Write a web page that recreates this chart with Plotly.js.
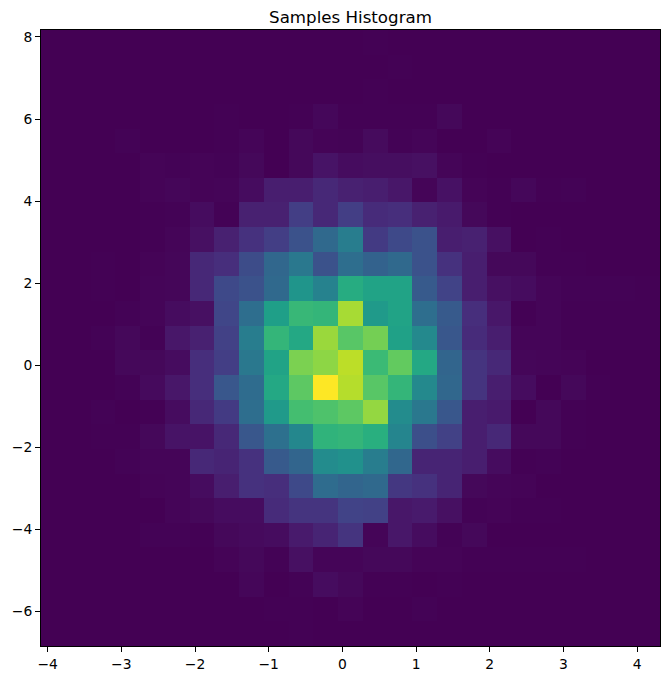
<!DOCTYPE html>
<html><head><meta charset="utf-8">
<script src="https://cdn.plot.ly/plotly-3.0.1.min.js"></script>
<style>html,body{margin:0;padding:0;background:#fff}</style></head>
<body><div id="chart" style="width:670px;height:680px"></div>
<script>
const xEdges=[-4.09,-3.754,-3.418,-3.082,-2.746,-2.41,-2.074,-1.738,-1.402,-1.066,-0.73,-0.394,-0.058,0.278,0.614,0.95,1.286,1.622,1.958,2.294,2.63,2.966,3.302,3.638,3.974,4.31];
const yEdges=[8.17,7.569,6.968,6.368,5.767,5.166,4.565,3.965,3.364,2.763,2.162,1.561,0.961,0.36,-0.241,-0.842,-1.442,-2.043,-2.644,-3.245,-3.846,-4.446,-5.047,-5.648,-6.249,-6.85];
// Histogram intensity per cell (0-100), rows from top to bottom
const row00=[0,0,0,0,0,0,0,0,0,0,0,.1,.1,.3,.1,0,0,0,0,0,0,0,0,0,0];
const row01=[0,0,0,0,0,0,0,0,0,0,0,0,0,.1,.4,0,0,0,0,0,0,0,0,0,0];
const row02=[0,0,0,0,0,0,0,0,0,0,0,0,0,.3,.1,0,0,0,0,0,0,0,0,0,0];
const row03=[0,0,0,0,0,0,0,.4,0,0,.4,1.6,.4,.4,.4,.4,1.8,0,0,0,0,0,0,0,0];
const row04=[0,0,0,.5,.1,.1,.1,.4,1.2,0,1.8,.8,.7,2.6,.5,1.2,.1,.1,.8,0,0,0,0,0,0];
const row05=[0,0,0,0,.9,.5,.8,.5,1.8,.1,1.8,5,3,3.5,3.5,4,1.2,.4,.1,0,0,0,0,0,0];
const row06=[0,0,0,0,.9,1.5,.8,1.2,3,8,8,11,9,8,6,1.2,4.5,.9,.2,1.6,.2,.5,0,0,0];
const row07=[0,0,0,0,.2,.5,3,.5,9,9,18,11,18,12,13,9,7,1.8,.2,.1,.1,.1,0,0,0];
const row08=[0,0,0,0,.2,1.2,4,9,14,18,25,34,42,17,22,25,8,9,4,.1,.3,.1,0,0,0];
const row09=[0,0,.3,0,.9,1.5,11,13,23,33,40,25,36,31,34,25,14,8,1.8,1.8,.3,.4,0,0,0];
const row10=[.1,.1,.2,0,1.2,1.5,11,22,25,34,52,44,62,58,58,28,20,8,4,3,1.2,.5,.5,.5,.2];
const row11=[0,0,.1,.5,1.2,3,4,21,36,56,67,66,87,54,58,36,28,13,6,.4,1.2,.4,.4,.4,.4];
const row12=[0,0,.5,1.8,.5,6,9,19,42,66,60,85,74,79,57,47,27,12,8,1.2,1.2,.4,.2,.2,.2];
const row13=[0,0,.1,1.8,1.8,3,13,18,40,58,80,83,90,68,76,60,32,15,11,1.5,1.2,.8,.1,.1,.1];
const row14=[0,0,.1,.5,2.5,6,13,27,35,60,75,100,89,74,66,47,33,15,8,3,.1,1.8,.2,.1,.1];
const row15=[0,0,.5,.1,.2,3,11,17,36,54,70,72,75,84,48,40,27,8,7,.1,1.8,.2,.1,.1,.1];
const row16=[0,0,.2,.2,1.8,5,5,11,27,37,46,65,66,63,45,24,19,8,11,1.8,1.8,.4,.1,.1,.1];
const row17=[0,0,0,.5,1.2,1.2,11,10,14,28,32,48,50,42,33,10,10,8,3,.2,.5,.1,.1,0,0];
const row18=[0,0,0,0,.9,1.2,3,8,14,13,22,35,32,34,16,14,10,1.8,1.2,.9,.1,.1,0,0,0];
const row19=[0,0,0,0,0,1.2,1.8,3,3,12,15,15,20,19,6,7,4,.5,.9,.4,.4,.1,0,0,0];
const row20=[0,0,0,0,.5,.5,.2,1.8,2.5,3,7,10,15,1.2,6,3,.5,1.8,.1,.1,.1,.1,.1,0,0];
const row21=[0,0,0,0,0,0,0,.9,1.8,.5,4,1.2,1.2,1.8,1.8,.9,.9,.4,.2,.2,.2,.2,.1,0,0];
const row22=[0,0,0,0,0,0,0,0,1.5,.1,.5,3,1.8,.2,.2,.1,.4,.1,.1,.1,.1,.1,0,0,0];
const row23=[0,0,0,0,0,0,.1,.1,.1,.2,.4,.1,.9,.1,.1,.5,.1,.1,.1,.1,0,0,0,0,0];
const row24=[0,0,0,0,0,0,0,0,0,.1,.2,0,.1,0,0,.1,0,0,0,0,0,0,0,0,0];
const rowsTopDown=[row00,row01,row02,row03,row04,row05,row06,row07,row08,row09,row10,row11,row12,row13,row14,row15,row16,row17,row18,row19,row20,row21,row22,row23,row24];
const chartTitle="Samples Histogram";

const font="'DejaVu Sans',sans-serif";
const axisBase={showgrid:false,zeroline:false,showline:true,mirror:true,linecolor:'#000',linewidth:1.1,
  ticks:'outside',ticklen:4.9,tickwidth:1.1,tickcolor:'#000',tickfont:{family:font,size:13.89,color:'#000'}};
Plotly.newPlot('chart',[{type:'heatmap',x:xEdges,y:[...yEdges].reverse(),z:[...rowsTopDown].reverse(),
  colorscale:'Viridis',zmin:0,zmax:100,showscale:false,zsmooth:false,hoverinfo:'skip'}],{
  width:670,height:680,margin:{l:41,r:10,t:30,b:34,pad:0},paper_bgcolor:'#fff',plot_bgcolor:'#fff',
  title:{text:chartTitle,font:{family:font,size:16.67,color:'#000'},x:0.5,xref:'paper',xanchor:'center',y:1,yref:'paper',yanchor:'bottom',pad:{b:7}},
  xaxis:{...axisBase,range:[-4.09,4.31],tickmode:'array',tickvals:[-4,-3,-2,-1,0,1,2,3,4],ticktext:['\u22124','\u22123','\u22122','\u22121','0','1','2','3','4']},
  yaxis:{...axisBase,range:[-6.85,8.17],tickmode:'array',tickvals:[-6,-4,-2,0,2,4,6,8],ticktext:['\u22126','\u22124','\u22122','0','2','4','6','8']}
},{displayModeBar:false});
</script></body></html>
